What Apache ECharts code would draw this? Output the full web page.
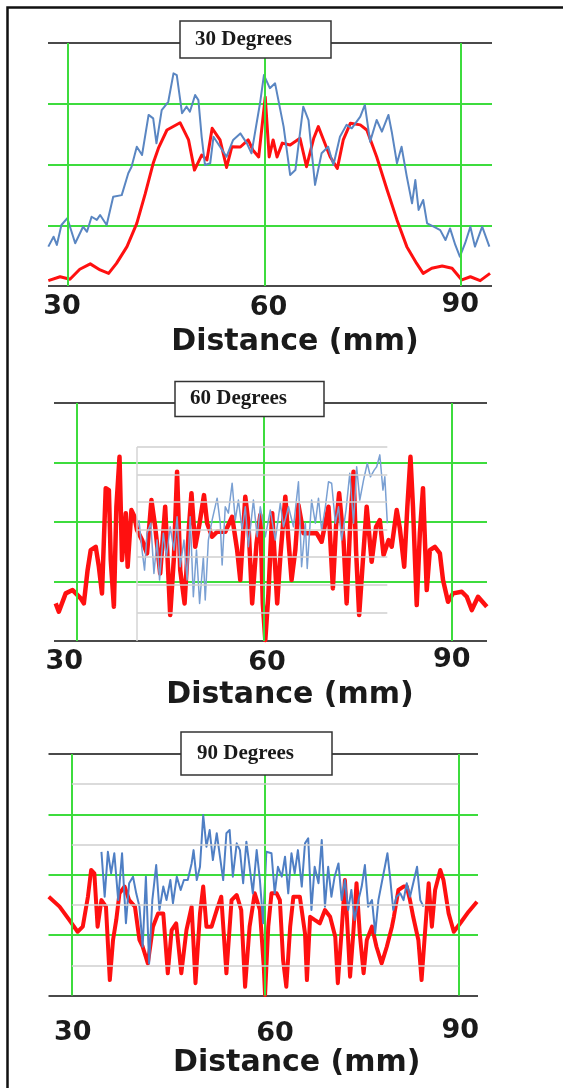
<!DOCTYPE html>
<html lang="en">
<head>
  <meta charset="UTF-8">
  <title>Distance profiles at 30, 60 and 90 degrees</title>
  <script src="https://cdn.jsdelivr.net/npm/echarts@6.0.0/dist/echarts.min.js"></script>
  <style>
    html, body { margin: 0; padding: 0; background: #fff; }
    #main { width: 563px; height: 1088px; }
  </style>
</head>
<body>
  <div id="main"></div>
  <script>
    // panel titles and tick labels
    const panelTitles = ['30 Degrees', '60 Degrees', '90 Degrees'];
    const xTicks = [30, 60, 90];
    const axisTitle = 'Distance (mm)';

    // 30 degrees: [distance mm, relative level %]
    const red30 = [[27.0,2.2],[28.8,3.8],[30.3,2.8],[31.8,6.9],[33.4,9.1],[34.9,6.6],[36.2,5.2],[37.4,9.3],[39.0,16.2],
      [40.5,25.8],[41.8,38.1],[43.0,50.5],[43.8,56.7],[45.1,64.2],[47.1,67.2],[48.4,60.1],[49.3,47.7],[50.4,53.9],
      [51.2,51.9],[52.0,64.9],[53.2,60.1],[54.2,48.8],[55.0,57.3],[56.3,57.2],[57.5,60.1],[58.2,56.0],[59.1,53.1],
      [60.1,77.8],[60.7,53.1],[61.3,60.1],[61.9,53.1],[62.7,58.8],[63.9,58.0],[65.4,60.8],[66.4,49.1],[67.5,60.8],
      [68.2,65.6],[69.0,60.1],[70.0,53.2],[71.1,48.4],[72.0,60.1],[73.1,67.0],[74.6,66.3],[75.6,64.2],[77.1,53.2],
      [78.7,39.5],[80.2,27.2],[81.7,16.2],[83.2,9.3],[84.2,5.2],[85.5,7.3],[87.1,8.2],[88.6,7.3],[90.1,2.5],
      [91.4,3.8],[92.9,2.2],[94.4,5.2]];
    const blue30 = [[27.0,16.2],[27.8,20.3],[28.3,16.9],[29.0,25.1],[29.9,27.9],[31.1,17.6],[32.3,24.4],[32.9,22.3],
      [33.6,28.5],[34.4,27.2],[34.9,29.2],[35.9,25.1],[36.9,36.7],[38.2,37.4],[39.2,46.4],[39.7,49.1],[40.5,57.3],
      [41.3,53.9],[42.3,70.4],[43.0,69.0],[43.5,58.7],[44.3,72.4],[45.3,75.8],[46.1,87.5],[46.6,86.8],[47.4,71.1],
      [48.1,73.8],[48.6,71.7],[49.4,78.6],[49.9,76.5],[50.4,61.4],[50.9,49.8],[51.7,50.5],[52.2,61.4],[53.2,57.3],
      [54.2,53.2],[55.2,60.1],[56.3,62.8],[57.3,58.7],[58.0,54.6],[59.3,75.2],[59.9,86.8],[60.8,81.4],[61.6,83.4],
      [62.9,65.6],[63.9,45.7],[64.7,47.7],[65.9,73.8],[66.7,68.3],[67.7,41.6],[68.7,54.6],[69.7,57.3],[70.5,49.8],
      [71.5,61.4],[72.5,66.3],[73.3,64.9],[74.6,69.7],[75.3,74.5],[76.1,59.4],[77.1,68.3],[77.9,63.5],[78.9,70.4],
      [79.4,63.5],[80.2,50.5],[80.9,57.3],[81.7,45.0],[82.5,34.0],[83.0,43.6],[83.5,31.3],[84.2,35.4],[84.8,25.8],
      [85.8,24.4],[86.8,23.0],[87.6,18.9],[88.3,23.7],[89.1,16.9],[89.8,12.1],[90.6,17.6],[91.4,24.4],[92.1,16.2],
      [93.2,24.4],[94.3,16.2]];

    // 60 degrees
    const red60 = [[26.7,15.8],[27.2,12.3],[28.3,20.0],[29.4,21.4],[30.7,17.9],[31.2,15.8],[31.8,29.8],[32.3,38.2],
      [33.1,39.6],[33.6,31.2],[34.1,20.0],[34.7,64.2],[35.2,63.4],[35.5,34.0],[36.0,14.4],[36.4,56.4],[36.9,77.4],
      [37.3,34.0],[37.9,53.7],[38.2,31.2],[38.8,55.0],[39.3,52.2],[39.7,46.6],[40.5,42.4],[41.3,36.8],[42.0,59.2],
      [42.6,48.0],[43.4,28.4],[44.2,56.4],[45.0,10.9],[45.6,35.4],[46.1,71.1],[46.6,29.8],[47.3,15.8],[48.0,48.0],
      [48.4,62.1],[49.0,39.6],[49.7,49.5],[50.4,61.3],[50.9,49.5],[51.7,43.8],[52.5,45.9],[53.8,45.9],[54.9,52.2],
      [55.7,38.2],[56.2,25.6],[57.0,60.6],[57.5,49.5],[58.1,15.8],[58.8,41.1],[59.4,52.9],[59.8,15.8],[60.2,0.4],
      [60.7,20.0],[61.3,53.7],[62.1,15.8],[62.6,35.4],[63.4,60.6],[63.9,42.4],[64.4,25.6],[65.0,38.2],[65.5,57.1],
      [66.3,45.3],[67.6,45.3],[68.4,45.3],[69.2,41.7],[70.3,56.4],[71.0,22.1],[71.5,48.0],[72.0,62.1],[72.7,42.4],
      [73.2,15.8],[73.7,45.3],[74.3,71.1],[74.7,38.2],[75.2,10.9],[75.8,34.0],[76.4,56.4],[77.2,33.3],[77.9,48.0],
      [78.5,50.8],[79.1,36.1],[79.9,42.4],[80.4,39.6],[81.2,55.0],[81.7,47.4],[82.4,31.2],[82.9,56.4],[83.4,77.4],
      [83.8,56.4],[84.4,15.1],[84.9,45.3],[85.4,64.2],[86.0,21.4],[86.5,38.2],[87.3,39.6],[88.1,36.8],[88.6,25.6],
      [89.4,16.5],[90.2,20.0],[91.6,20.7],[92.4,18.6],[93.2,13.0],[94.2,18.6],[95.6,14.4]];
    const blue60 = [[40.0,50.8],[40.5,38.2],[40.9,29.8],[41.3,45.3],[41.9,49.5],[42.4,28.4],[42.9,42.4],[43.3,25.6],
      [43.9,45.3],[44.4,35.4],[45.0,48.0],[45.6,38.2],[46.1,52.2],[46.6,31.2],[47.2,42.4],[47.7,25.6],[48.2,52.2],
      [48.7,18.6],[49.2,38.2],[49.7,15.8],[50.3,35.4],[50.6,17.2],[51.1,42.4],[51.7,50.8],[52.5,60.0],[53.0,49.5],
      [53.3,31.9],[53.8,56.4],[54.3,53.7],[54.9,66.3],[55.4,50.8],[55.9,59.2],[56.5,46.6],[57.0,56.4],[57.5,39.6],
      [58.3,59.2],[58.9,43.8],[59.4,56.4],[60.2,43.8],[61.0,55.0],[61.8,42.4],[62.6,57.9],[63.1,48.0],[63.9,56.4],
      [64.7,48.0],[65.5,66.9],[66.0,31.2],[66.6,49.5],[66.9,30.5],[67.6,59.2],[68.2,49.5],[68.7,60.0],[69.2,46.6],
      [69.8,56.4],[70.3,66.9],[70.8,66.3],[71.4,49.5],[71.9,56.4],[72.4,42.4],[73.1,55.0],[73.7,70.5],[74.3,49.5],
      [74.8,73.2],[75.3,59.2],[75.9,67.6],[76.5,74.7],[77.0,69.0],[77.6,71.8],[78.0,73.2],[78.5,78.2],[79.0,63.4],
      [79.3,69.0],[79.7,49.5]];
    // faint inner grid of the 60 degree plot
    const inset60Levels = [11.8, 23.5, 35.3, 46.6, 58.4, 69.7, 81.5];
    const inset60Range = [39.7, 79.7];

    // 90 degrees
    const red90 = [[26.42,40.9],[28.1,36.8],[29.6,31.3],[30.9,26.4],[31.7,28.5],[32.5,40.9],[33.0,52.0],[33.5,50.6],
      [34.0,28.5],[34.6,39.5],[35.3,36.8],[35.9,6.4],[36.4,23.0],[36.9,31.3],[37.4,42.3],[38.2,45.1],[38.9,39.5],
      [39.8,36.8],[40.5,23.0],[41.0,20.2],[41.8,13.3],[42.6,28.5],[43.4,34.0],[44.2,34.0],[44.9,9.2],[45.5,27.1],
      [46.2,29.9],[47.0,9.2],[47.8,27.1],[48.6,36.8],[49.2,5.1],[49.9,34.0],[50.4,45.1],[50.9,28.5],[51.7,28.5],
      [52.5,35.4],[53.2,40.9],[54.0,9.2],[54.8,39.5],[55.6,41.6],[56.3,35.4],[56.9,3.6],[57.6,28.5],[58.4,42.3],
      [59.2,35.4],[59.8,11.9],[60.0,0.2],[60.5,28.5],[61.0,42.3],[61.8,42.3],[62.3,39.5],[62.8,14.7],[63.3,3.6],
      [63.9,28.5],[64.4,40.9],[65.4,40.9],[66.2,25.8],[66.5,6.4],[67.0,32.6],[67.7,31.3],[68.5,29.9],[69.3,35.4],
      [70.1,32.6],[70.9,24.3],[71.3,5.1],[71.9,27.1],[72.4,47.8],[72.9,23.0],[73.2,7.8],[73.7,25.8],[74.2,46.5],
      [74.7,25.8],[75.3,9.2],[75.8,23.0],[76.6,28.5],[77.3,20.2],[78.1,13.3],[78.9,20.2],[79.7,28.5],[80.0,32.6],
      [80.7,43.7],[81.5,45.1],[82.0,45.1],[82.5,39.5],[83.0,32.6],[83.8,23.0],[84.3,6.4],[84.9,28.5],[85.4,46.5],
      [85.9,28.5],[86.4,43.7],[87.2,52.0],[87.7,47.8],[88.5,34.0],[89.3,26.4],[90.3,29.9],[91.6,34.7],[92.9,38.8]];
    const blue90 = [[34.6,59.5],[35.1,40.9],[35.6,59.5],[36.1,50.6],[36.6,58.9],[37.2,39.5],[37.8,58.9],[38.4,29.9],
      [38.9,46.5],[39.5,49.2],[40.0,42.3],[40.5,36.8],[41.0,20.2],[41.5,49.2],[42.0,13.3],[42.5,39.5],[43.1,54.0],
      [43.6,35.4],[44.2,45.1],[44.7,39.5],[45.3,47.8],[45.7,38.2],[46.3,49.2],[46.9,43.7],[47.4,47.8],[48.0,47.8],
      [48.6,54.7],[48.9,60.2],[49.4,47.8],[49.9,53.3],[50.4,74.7],[50.9,61.6],[51.4,68.5],[51.9,56.1],[52.5,67.2],
      [53.0,57.5],[53.5,47.8],[54.0,67.2],[54.5,68.5],[55.0,49.2],[55.6,63.0],[56.1,60.2],[56.6,46.5],[57.1,63.7],
      [57.6,53.3],[58.1,42.3],[58.7,60.2],[59.2,47.8],[59.7,29.9],[60.2,59.5],[61.0,58.9],[61.5,42.3],[62.0,53.3],
      [62.6,49.2],[63.1,57.5],[63.6,42.3],[64.1,58.9],[64.6,50.6],[65.1,60.2],[65.7,45.1],[66.2,63.0],[66.7,65.1],
      [67.2,35.4],[67.7,53.3],[68.3,46.5],[68.8,64.4],[69.3,36.8],[69.8,53.3],[70.3,40.9],[70.8,49.2],[71.4,54.7],
      [71.9,39.5],[72.4,47.8],[72.9,35.4],[73.4,43.7],[73.9,31.3],[74.5,39.5],[75.0,45.1],[75.5,54.0],[76.0,36.8],
      [76.6,39.5],[77.1,25.8],[77.6,39.5],[78.1,46.5],[78.6,53.3],[79.0,58.9],[79.4,49.2],[79.9,35.4],[80.4,40.9],
      [81.0,42.3],[81.5,39.5],[82.0,46.5],[82.5,40.9],[83.0,46.5],[83.6,53.3],[84.1,39.5],[84.6,36.8]];
    // faint half-step lines of the 90 degree plot
    const inset90Levels = [12.5, 37.5, 62.5, 87.5];
    const inset90Range = [30, 90];

    const xRanges = [[26.95, 94.7], [26.43, 95.63], [26.38, 93.06]];

    const GREEN = '#3ddc3d';
    const DARK = '#4a4a4a';
    const RED = '#ff1010';

    const myChart = echarts.init(document.getElementById('main'), null, { renderer: 'canvas' });

    const grids = [
      { left: 48, top: 43, width: 444, height: 243 },
      { left: 54, top: 403, width: 433, height: 238 },
      { left: 48.5, top: 754, width: 429.5, height: 241.5 }
    ];
    const labelMargins = [5, 5.5, 22];
    // per-label nudges [padTop, padRight, padBottom, padLeft] for 30 / 60 / 90
    const labelPads = [
      [[4.5, 12, 0, 0], [6.5, 0, 0, 8], [0.5, 2, 0, 0]],
      [[4.5, 24, 0, 0], [5.5, 0, 0, 6], [0.5, 0, 0, 0]],
      [[4, 0, 0, 2], [6, 0, 0, 20], [0, 0, 0, 4]]
    ];
    const nameGaps = [41, 39, 52.5];
    const nameShift = [50, 39, 67];
    const titleBoxes = [
      { left: 180, top: 21, padding: [8, 39, 8, 15] },
      { left: 175, top: 381, padding: [7.5, 37, 7.5, 15] },
      { left: 181, top: 732, padding: [11, 38, 11, 16] }
    ];

    const tickFont = { fontFamily: 'DejaVu Sans', fontWeight: 'bold', fontSize: 27, lineHeight: 27, color: '#1a1a1a' };

    const xAxes = xRanges.map((r, i) => {
      const rich = {};
      xTicks.forEach((v, k) => {
        rich['t' + k] = Object.assign({ padding: labelPads[i][k] }, tickFont);
      });
      return {
        type: 'value', gridIndex: i, min: r[0], max: r[1],
        axisLine: { show: false }, axisTick: { show: false }, splitLine: { show: false },
        axisLabel: Object.assign({
          customValues: xTicks, margin: labelMargins[i], rich: rich,
          formatter: v => '{t' + xTicks.indexOf(v) + '|' + v + '}'
        }, tickFont),
        name: axisTitle, nameLocation: 'middle', nameGap: nameGaps[i],
        nameTextStyle: {
          fontFamily: 'DejaVu Sans', fontWeight: 'bold', fontSize: 30, lineHeight: 30, color: '#1a1a1a',
          padding: [0, 0, 0, nameShift[i]]
        }
      };
    });

    const yAxes = grids.map((g, i) => ({
      type: 'value', gridIndex: i, min: 0, max: 100, interval: 25,
      axisLine: { show: false }, axisTick: { show: false }, axisLabel: { show: false },
      splitLine: { show: true, lineStyle: { color: [DARK, GREEN, GREEN, GREEN, DARK], width: 2 } }
    }));

    function gridSeries(i, insetLevels, insetRange) {
      const data = xTicks.map(v => ({ xAxis: v, lineStyle: { color: GREEN, width: 2, type: 'solid' } }));
      (insetLevels || []).forEach(l => {
        data.push([{ coord: [insetRange[0], l] }, { coord: [insetRange[1], l], lineStyle: { color: '#cfcfcf', width: 1.5, type: 'solid' } }]);
      });
      if (i === 1) {
        data.push([{ coord: [insetRange[0], 0] }, { coord: [insetRange[0], insetLevels[insetLevels.length - 1]], lineStyle: { color: '#d4d4d4', width: 1.5, type: 'solid' } }]);
      }
      return {
        type: 'line', xAxisIndex: i, yAxisIndex: i, data: [], z: 1, silent: true,
        markLine: { symbol: 'none', silent: true, animation: false, label: { show: false }, data: data }
      };
    }

    function curve(i, data, color, width, z) {
      return {
        type: 'line', xAxisIndex: i, yAxisIndex: i, data: data, z: z,
        showSymbol: false, symbol: 'none', animation: false,
        lineStyle: { color: color, width: width, join: 'round' }
      };
    }

    const option = {
      backgroundColor: '#fff',
      animation: false,
      title: panelTitles.map((t, i) => ({
        text: t, left: titleBoxes[i].left, top: titleBoxes[i].top, padding: titleBoxes[i].padding,
        backgroundColor: '#fff', borderColor: '#333', borderWidth: 1.5, z: 10,
        textStyle: { fontFamily: 'Liberation Serif', fontWeight: 'bold', fontSize: 21, lineHeight: 21, color: '#1a1a1a' }
      })),
      grid: grids.map(g => Object.assign({ containLabel: false, outerBoundsMode: 'none', show: false }, g)),
      xAxis: xAxes,
      yAxis: yAxes,
      graphic: [{
        type: 'polyline', silent: true,
        shape: { points: [[7.5, 1088], [7.5, 7.5], [563, 7.5]] },
        style: { stroke: '#111', lineWidth: 2.5, fill: null }
      }],
      series: [
        gridSeries(0),
        curve(0, red30, RED, 3, 2),
        curve(0, blue30, '#5a86c2', 2, 3),
        gridSeries(1, inset60Levels, inset60Range),
        curve(1, red60, RED, 4.5, 2),
        curve(1, blue60, '#7aa0d3', 1.5, 3),
        gridSeries(2, inset90Levels, inset90Range),
        curve(2, red90, RED, 4, 2),
        curve(2, blue90, '#4f7fc4', 2, 3)
      ]
    };

    myChart.setOption(option);

    window.addEventListener('resize', function () {
      myChart.resize();
    });
  </script>
</body>
</html>
